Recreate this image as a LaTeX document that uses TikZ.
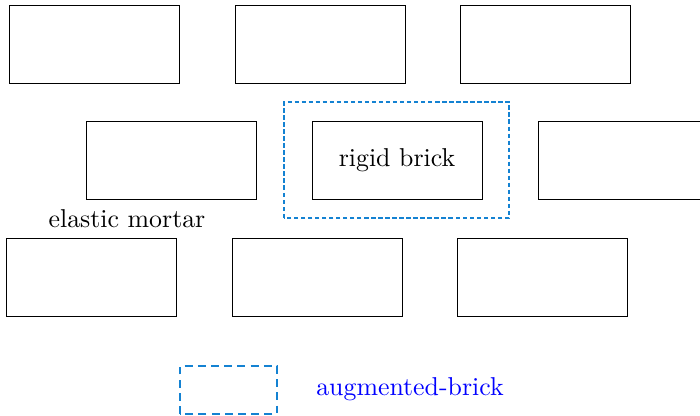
\documentclass[tikz,border=0pt]{standalone}
\usepackage{tikz}
\definecolor{augblue}{RGB}{20,130,210}
\tikzset{
	brick/.style={draw, line width=0.5pt, minimum width=3.4cm, minimum height=1.56cm, inner sep=0pt},
	label text/.style={scale=1.47},
	augbox/.style={draw=augblue, line width=0.7pt, dash pattern=on 2.5pt off 1.5pt},
}
\begin{document}
\begin{tikzpicture}
	\useasboundingbox (0,0) rectangle (14,8.32);
	\clip (0,0) rectangle (14,8.32);
	% top row
	\node [brick] (b11) at (1.88,7.44) {};
	\node [brick] (b12) at (6.40,7.44) {};
	\node [brick] (b13) at (10.90,7.44) {};
	% middle row
	\node [brick] (b21) at (3.43,5.12) {};
	\node [brick] (b22) at (7.94,5.12) {};
	\node [label text] (rigid) at (b22) {rigid brick};
	\node [brick] (b23) at (12.46,5.12) {};
	% bottom row
	\node [brick] (b31) at (1.82,2.78) {};
	\node [brick] (b32) at (6.34,2.78) {};
	\node [brick] (b33) at (10.84,2.78) {};
	% augmented brick
	\draw [augbox] (5.68,3.96) rectangle (10.18,6.28);
	\node [label text] (mortar) at (2.54,3.94) {elastic mortar};
	% legend
	\draw [draw=augblue, line width=1.1pt, dash pattern=on 4.5pt off 3pt] (3.6,0.04) rectangle (5.54,1.0);
	\node [label text, text=blue] (legend) at (8.2,0.54) {augmented-brick};
\end{tikzpicture}
\end{document}
